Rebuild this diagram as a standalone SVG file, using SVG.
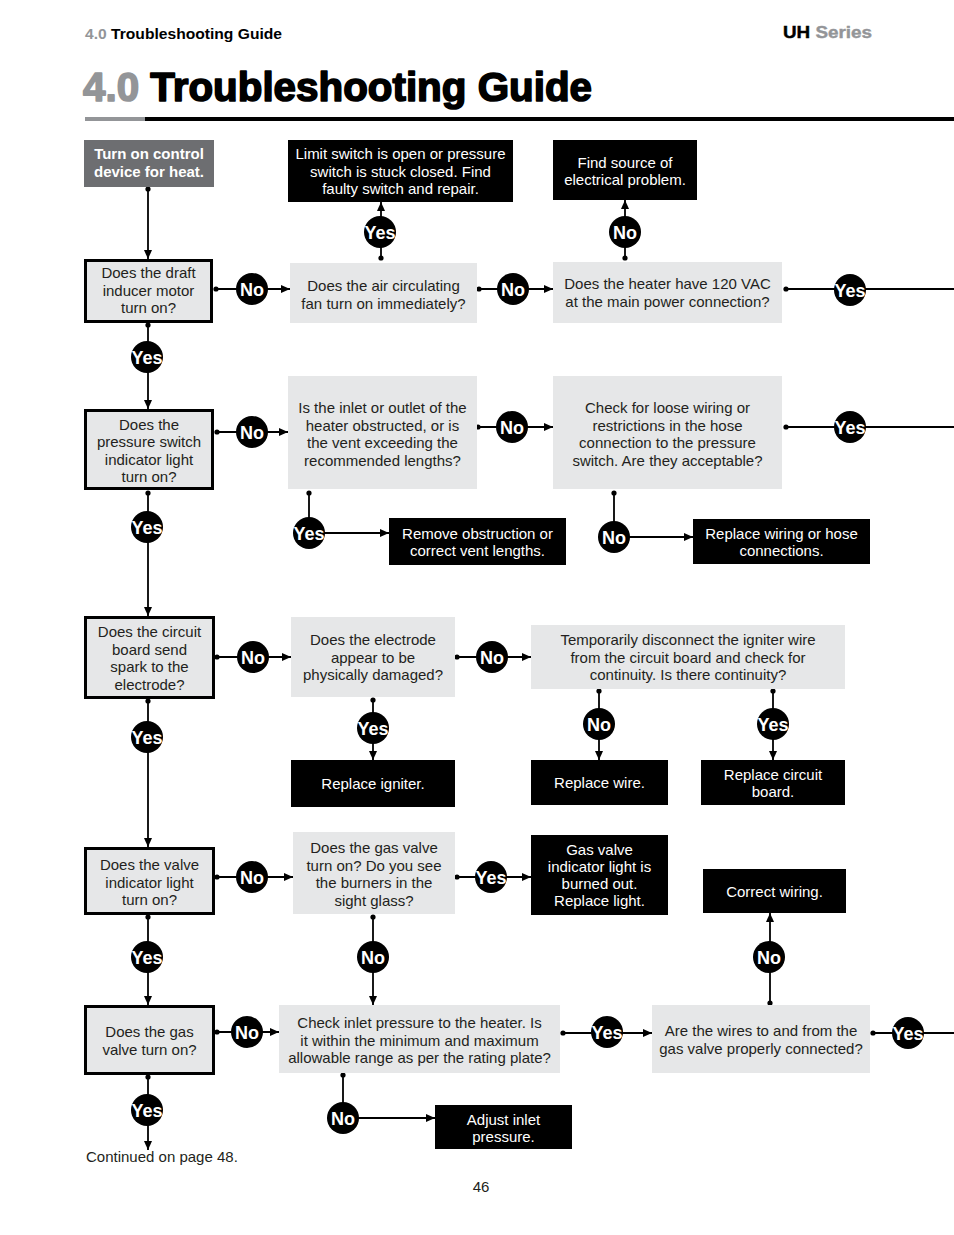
<svg xmlns="http://www.w3.org/2000/svg" width="954" height="1235" viewBox="0 0 954 1235">
<style>
.t{font-family:"Liberation Sans",Arial,Helvetica,sans-serif;font-size:15px;fill:#231f20;text-anchor:middle}
.w{fill:#fff}
.b{font-weight:bold}
.q{fill:#e6e7e8}
.qt{fill:#e6e7e8;stroke:#000;stroke-width:3}
.a{fill:#000}
.c{stroke:#000;stroke-width:1.8;fill:none}
.d{fill:#000}
.lb{font-family:"Liberation Sans",Arial,Helvetica,sans-serif;font-size:18px;font-weight:bold;fill:#fff;text-anchor:middle}
</style>
<defs>
<marker id="ah" markerUnits="userSpaceOnUse" markerWidth="9" markerHeight="8" viewBox="0 0 9 8" refX="9" refY="4" orient="auto"><path d="M0,0 L9,4 L0,8 z" fill="#000"/></marker>
</defs>
<rect width="954" height="1235" fill="#fff"/>
<!-- header -->
<g id="header">
<text x="85" y="39" font-family="Liberation Sans,Arial,sans-serif" font-size="15" font-weight="bold" textLength="197" lengthAdjust="spacingAndGlyphs"><tspan fill="#939598">4.0 </tspan><tspan fill="#000">Troubleshooting Guide</tspan></text>
<text x="783" y="38" font-family="Liberation Sans,Arial,sans-serif" font-size="16" font-weight="bold" stroke-width="0.4" textLength="89" lengthAdjust="spacingAndGlyphs"><tspan fill="#000" stroke="#000">UH </tspan><tspan fill="#939598" stroke="#939598">Series</tspan></text>
<text x="83" y="101" font-family="Liberation Sans,Arial,sans-serif" font-size="40" font-weight="bold" stroke-width="1.6" stroke-linejoin="round" textLength="509" lengthAdjust="spacingAndGlyphs"><tspan fill="#939598" stroke="#939598">4.0 </tspan><tspan fill="#000" stroke="#000">Troubleshooting Guide</tspan></text>
<rect x="85" y="117" width="60" height="4" fill="#939598"/>
<rect x="145" y="117" width="809" height="4" fill="#000"/>
</g>
<!-- connectors -->
<g id="connectors">
<path class="c" d="M148,189 V259" marker-end="url(#ah)"/>
<path class="c" d="M148,325 V409" marker-end="url(#ah)"/>
<path class="c" d="M148,493 V616" marker-end="url(#ah)"/>
<path class="c" d="M148,701 V847" marker-end="url(#ah)"/>
<path class="c" d="M148,917 V1005" marker-end="url(#ah)"/>
<path class="c" d="M148,1077 V1150" marker-end="url(#ah)"/>
<path class="c" d="M216,289 H290" marker-end="url(#ah)"/>
<path class="c" d="M479,289 H553" marker-end="url(#ah)"/>
<path class="c" d="M786,289 H954"/>
<path class="c" d="M381,258 V202" marker-end="url(#ah)"/>
<path class="c" d="M625,258 V200" marker-end="url(#ah)"/>
<path class="c" d="M217,432 H288" marker-end="url(#ah)"/>
<path class="c" d="M478,427 H553" marker-end="url(#ah)"/>
<path class="c" d="M786,427 H954"/>
<path class="c" d="M309,493 V533 H389" marker-end="url(#ah)"/>
<path class="c" d="M614,493 V537 H693" marker-end="url(#ah)"/>
<path class="c" d="M217,657 H291" marker-end="url(#ah)"/>
<path class="c" d="M457,657 H531" marker-end="url(#ah)"/>
<path class="c" d="M373,700 V760" marker-end="url(#ah)"/>
<path class="c" d="M599,691 V760" marker-end="url(#ah)"/>
<path class="c" d="M773,691 V760" marker-end="url(#ah)"/>
<path class="c" d="M217,877 H293" marker-end="url(#ah)"/>
<path class="c" d="M457,877 H531" marker-end="url(#ah)"/>
<path class="c" d="M373,917 V1005" marker-end="url(#ah)"/>
<path class="c" d="M217,1032 H279" marker-end="url(#ah)"/>
<path class="c" d="M563,1033 H652" marker-end="url(#ah)"/>
<path class="c" d="M873,1033 H954"/>
<path class="c" d="M770,1003 V913" marker-end="url(#ah)"/>
<path class="c" d="M343,1075 V1118 H435" marker-end="url(#ah)"/>
<g class="d">
<circle cx="148" cy="189" r="2.6"/><circle cx="148" cy="325" r="2.6"/><circle cx="148" cy="493" r="2.6"/><circle cx="148" cy="701" r="2.6"/><circle cx="148" cy="917" r="2.6"/><circle cx="148" cy="1077" r="2.6"/>
<circle cx="216" cy="289" r="2.6"/><circle cx="479" cy="289" r="2.6"/><circle cx="786" cy="289" r="2.6"/><circle cx="381" cy="258" r="2.6"/><circle cx="625" cy="258" r="2.6"/>
<circle cx="217" cy="432" r="2.6"/><circle cx="478" cy="427" r="2.6"/><circle cx="786" cy="427" r="2.6"/><circle cx="309" cy="493" r="2.6"/><circle cx="614" cy="493" r="2.6"/>
<circle cx="217" cy="657" r="2.6"/><circle cx="457" cy="657" r="2.6"/><circle cx="373" cy="700" r="2.6"/><circle cx="599" cy="691" r="2.6"/><circle cx="773" cy="691" r="2.6"/>
<circle cx="217" cy="877" r="2.6"/><circle cx="457" cy="877" r="2.6"/><circle cx="373" cy="917" r="2.6"/>
<circle cx="217" cy="1032" r="2.6"/><circle cx="563" cy="1033" r="2.6"/><circle cx="873" cy="1033" r="2.6"/><circle cx="770" cy="1003" r="2.6"/><circle cx="343" cy="1075" r="2.6"/>
</g>
<g id="labels">
<circle cx="147" cy="357" r="16"/><text class="lb" x="147" y="363.5">Yes</text>
<circle cx="147" cy="527" r="16"/><text class="lb" x="147" y="533.5">Yes</text>
<circle cx="147" cy="737" r="16"/><text class="lb" x="147" y="743.5">Yes</text>
<circle cx="147" cy="957" r="16"/><text class="lb" x="147" y="963.5">Yes</text>
<circle cx="147" cy="1110" r="16"/><text class="lb" x="147" y="1116.5">Yes</text>
<circle cx="252" cy="289" r="16"/><text class="lb" x="252" y="295.5">No</text>
<circle cx="513" cy="289" r="16"/><text class="lb" x="513" y="295.5">No</text>
<circle cx="850" cy="290" r="16"/><text class="lb" x="850" y="296.5">Yes</text>
<circle cx="380" cy="232" r="16"/><text class="lb" x="380" y="238.5">Yes</text>
<circle cx="625" cy="232" r="16"/><text class="lb" x="625" y="238.5">No</text>
<circle cx="252" cy="432" r="16"/><text class="lb" x="252" y="438.5">No</text>
<circle cx="512" cy="427" r="16"/><text class="lb" x="512" y="433.5">No</text>
<circle cx="850" cy="427" r="16"/><text class="lb" x="850" y="433.5">Yes</text>
<circle cx="309" cy="533" r="16"/><text class="lb" x="309" y="539.5">Yes</text>
<circle cx="614" cy="537" r="16"/><text class="lb" x="614" y="543.5">No</text>
<circle cx="253" cy="657" r="16"/><text class="lb" x="253" y="663.5">No</text>
<circle cx="492" cy="657" r="16"/><text class="lb" x="492" y="663.5">No</text>
<circle cx="373" cy="728" r="16"/><text class="lb" x="373" y="734.5">Yes</text>
<circle cx="599" cy="724" r="16"/><text class="lb" x="599" y="730.5">No</text>
<circle cx="773" cy="724" r="16"/><text class="lb" x="773" y="730.5">Yes</text>
<circle cx="252" cy="877" r="16"/><text class="lb" x="252" y="883.5">No</text>
<circle cx="491" cy="877" r="16"/><text class="lb" x="491" y="883.5">Yes</text>
<circle cx="373" cy="957" r="16"/><text class="lb" x="373" y="963.5">No</text>
<circle cx="247" cy="1032" r="16"/><text class="lb" x="247" y="1038.5">No</text>
<circle cx="607" cy="1032" r="16"/><text class="lb" x="607" y="1038.5">Yes</text>
<circle cx="908" cy="1033" r="16"/><text class="lb" x="908" y="1039.5">Yes</text>
<circle cx="769" cy="957" r="16"/><text class="lb" x="769" y="963.5">No</text>
<circle cx="343" cy="1118" r="16"/><text class="lb" x="343" y="1124.5">No</text>
</g>
</g>
<!-- nodes -->
<g id="n-start"><rect x="84" y="140" width="130" height="47" fill="#6d6e71"/><text class="t w b" x="149"><tspan x="149" y="159">Turn on control</tspan><tspan x="149" y="177">device for heat.</tspan></text></g>
<g id="n-limit"><rect class="a" x="288" y="140" width="225" height="62"/><text class="t w" x="400.5"><tspan x="400.5" y="159">Limit switch is open or pressure</tspan><tspan x="400.5" y="176.5">switch is stuck closed. Find</tspan><tspan x="400.5" y="194">faulty switch and repair.</tspan></text></g>
<g id="n-source"><rect class="a" x="553" y="140" width="144" height="60"/><text class="t w" x="625"><tspan x="625" y="168">Find source of</tspan><tspan x="625" y="185">electrical problem.</tspan></text></g>
<g id="n-draft"><rect class="qt" x="85.5" y="260.5" width="126" height="61"/><text class="t" x="148.5"><tspan x="148.5" y="278">Does the draft</tspan><tspan x="148.5" y="295.5">inducer motor</tspan><tspan x="148.5" y="313">turn on?</tspan></text></g>
<g id="n-fan"><rect class="q" x="290" y="263" width="187" height="60"/><text class="t" x="383.5"><tspan x="383.5" y="291">Does the air circulating</tspan><tspan x="383.5" y="308.5">fan turn on immediately?</tspan></text></g>
<g id="n-vac"><rect class="q" x="553" y="262" width="229" height="61"/><text class="t" x="667.5"><tspan x="667.5" y="289">Does the heater have 120 VAC</tspan><tspan x="667.5" y="306.5">at the main power connection?</tspan></text></g>
<g id="n-pswitch"><rect class="qt" x="85.5" y="410.5" width="127" height="78"/><text class="t" x="149"><tspan x="149" y="429.5">Does the</tspan><tspan x="149" y="447">pressure switch</tspan><tspan x="149" y="464.5">indicator light</tspan><tspan x="149" y="482">turn on?</tspan></text></g>
<g id="n-inlet"><rect class="q" x="288" y="376" width="189" height="113"/><text class="t" x="382.5"><tspan x="382.5" y="413">Is the inlet or outlet of the</tspan><tspan x="382.5" y="430.5">heater obstructed, or is</tspan><tspan x="382.5" y="448">the vent exceeding the</tspan><tspan x="382.5" y="465.5">recommended lengths?</tspan></text></g>
<g id="n-loose"><rect class="q" x="553" y="376" width="229" height="113"/><text class="t" x="667.5"><tspan x="667.5" y="413">Check for loose wiring or</tspan><tspan x="667.5" y="430.5">restrictions in the hose</tspan><tspan x="667.5" y="448">connection to the pressure</tspan><tspan x="667.5" y="465.5">switch. Are they acceptable?</tspan></text></g>
<g id="n-remove"><rect class="a" x="389" y="518" width="177" height="47"/><text class="t w" x="477.5"><tspan x="477.5" y="539">Remove obstruction or</tspan><tspan x="477.5" y="556">correct vent lengths.</tspan></text></g>
<g id="n-rewire"><rect class="a" x="693" y="519" width="177" height="45"/><text class="t w" x="781.5"><tspan x="781.5" y="539">Replace wiring or hose</tspan><tspan x="781.5" y="556">connections.</tspan></text></g>
<g id="n-spark"><rect class="qt" x="85.5" y="617.5" width="128" height="80"/><text class="t" x="149.5"><tspan x="149.5" y="637">Does the circuit</tspan><tspan x="149.5" y="654.5">board send</tspan><tspan x="149.5" y="672">spark to the</tspan><tspan x="149.5" y="689.5">electrode?</tspan></text></g>
<g id="n-electrode"><rect class="q" x="291" y="617" width="164" height="80"/><text class="t" x="373"><tspan x="373" y="645">Does the electrode</tspan><tspan x="373" y="663">appear to be</tspan><tspan x="373" y="680">physically damaged?</tspan></text></g>
<g id="n-continuity"><rect class="q" x="531" y="625" width="314" height="64"/><text class="t" x="688"><tspan x="688" y="645">Temporarily disconnect the igniter wire</tspan><tspan x="688" y="662.5">from the circuit board and check for</tspan><tspan x="688" y="680">continuity. Is there continuity?</tspan></text></g>
<g id="n-igniter"><rect class="a" x="291" y="760" width="164" height="47"/><text class="t w" x="373" y="789">Replace igniter.</text></g>
<g id="n-wire"><rect class="a" x="531" y="760" width="137" height="45"/><text class="t w" x="599.5" y="788">Replace wire.</text></g>
<g id="n-board"><rect class="a" x="701" y="760" width="144" height="45"/><text class="t w" x="773"><tspan x="773" y="780">Replace circuit</tspan><tspan x="773" y="797">board.</tspan></text></g>
<g id="n-valvelight"><rect class="qt" x="85.5" y="848.5" width="128" height="65"/><text class="t" x="149.5"><tspan x="149.5" y="870">Does the valve</tspan><tspan x="149.5" y="887.5">indicator light</tspan><tspan x="149.5" y="905">turn on?</tspan></text></g>
<g id="n-burners"><rect class="q" x="293" y="832" width="162" height="82"/><text class="t" x="374"><tspan x="374" y="853">Does the gas valve</tspan><tspan x="374" y="870.5">turn on? Do you see</tspan><tspan x="374" y="888">the burners in the</tspan><tspan x="374" y="905.5">sight glass?</tspan></text></g>
<g id="n-burned"><rect class="a" x="531" y="835" width="137" height="80"/><text class="t w" x="599.5"><tspan x="599.5" y="855">Gas valve</tspan><tspan x="599.5" y="872">indicator light is</tspan><tspan x="599.5" y="889">burned out.</tspan><tspan x="599.5" y="906">Replace light.</tspan></text></g>
<g id="n-correct"><rect class="a" x="703" y="869" width="143" height="44"/><text class="t w" x="774.5" y="897">Correct wiring.</text></g>
<g id="n-gasvalve"><rect class="qt" x="85.5" y="1006.5" width="128" height="67"/><text class="t" x="149.5"><tspan x="149.5" y="1037">Does the gas</tspan><tspan x="149.5" y="1054.5">valve turn on?</tspan></text></g>
<g id="n-pressure"><rect class="q" x="279" y="1005" width="281" height="68"/><text class="t" x="419.5"><tspan x="419.5" y="1028">Check inlet pressure to the heater. Is</tspan><tspan x="419.5" y="1045.5">it within the minimum and maximum</tspan><tspan x="419.5" y="1063">allowable range as per the rating plate?</tspan></text></g>
<g id="n-wires"><rect class="q" x="652" y="1005" width="218" height="68"/><text class="t" x="761"><tspan x="761" y="1036">Are the wires to and from the</tspan><tspan x="761" y="1053.5">gas valve properly connected?</tspan></text></g>
<g id="n-adjust"><rect class="a" x="435" y="1105" width="137" height="44"/><text class="t w" x="503.5"><tspan x="503.5" y="1125">Adjust inlet</tspan><tspan x="503.5" y="1142">pressure.</tspan></text></g>
<g id="footer">
<text class="t" x="86" y="1162" style="text-anchor:start">Continued on page 48.</text>
<text class="t" x="481" y="1192">46</text>
</g>
</svg>
